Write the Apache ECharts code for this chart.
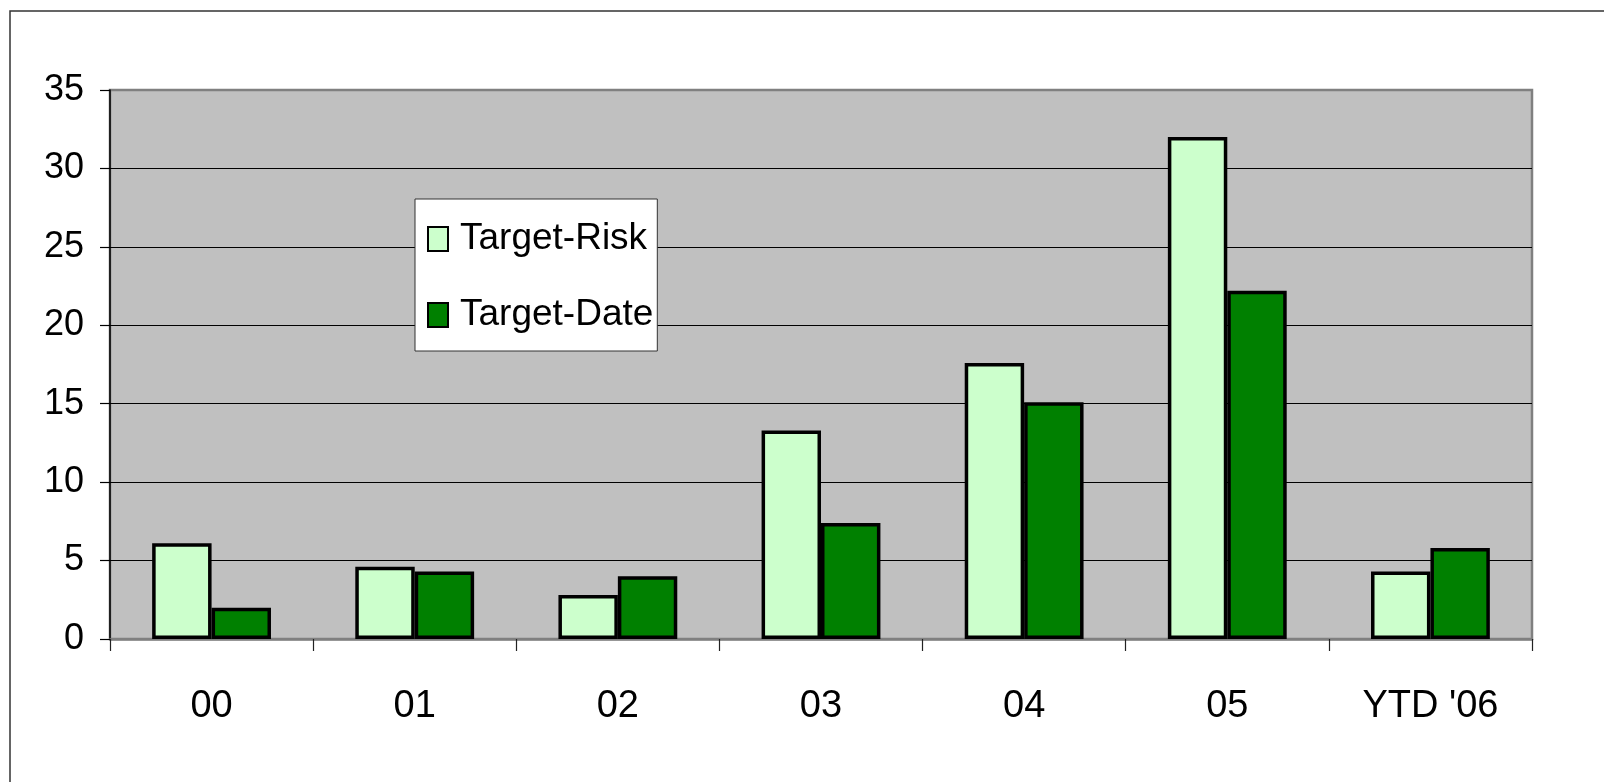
<!DOCTYPE html>
<html>
<head>
<meta charset="utf-8">
<title>Target-Risk vs Target-Date</title>
<script src="https://cdn.jsdelivr.net/npm/echarts@6/dist/echarts.min.js"></script>
<style>
  html, body { margin: 0; padding: 0; background: #ffffff; }
  #chart { width: 1604px; height: 782px; }
</style>
</head>
<body>
<div id="chart"></div>
<script>
// Categories along the x axis
const categories = ['00', '01', '02', '03', '04', '05', "YTD '06"];

// Series values per category
const targetRisk = [6.1, 4.6, 2.8, 13.3, 17.6, 32.0, 4.3];
const targetDate = [2.0, 4.3, 4.0, 7.4, 15.1, 22.2, 5.8];

// Value axis range
const yMin = 0;
const yMax = 35;
const yStep = 5;

const FONT = "'Liberation Sans Narrow', 'Arial Narrow', 'Liberation Sans', Arial, sans-serif";

const chart = echarts.init(document.getElementById('chart'), null, { renderer: 'canvas' });

chart.setOption({
  backgroundColor: '#ffffff',
  animation: false,
  textStyle: { fontFamily: FONT },
  graphic: [
    {
      // outer chart-area frame
      type: 'rect',
      silent: true,
      z: -10,
      shape: { x: 10, y: 11, width: 1640, height: 820 },
      style: { fill: 'none', stroke: '#333333', lineWidth: 1.5 }
    }
  ],
  grid: {
    left: 110,
    top: 90,
    width: 1422,
    height: 549,
    show: true,
    backgroundColor: '#C0C0C0',
    borderColor: '#808080',
    borderWidth: 2.5
  },
  legend: {
    orient: 'vertical',
    left: 415,
    top: 199,
    backgroundColor: '#ffffff',
    borderColor: '#333333',
    borderWidth: 1,
    borderRadius: 0,
    padding: [20, 4, 16, 12],
    itemGap: 36,
    itemWidth: 20,
    itemHeight: 24,
    icon: 'rect',
    textStyle: {
      fontFamily: FONT,
      fontSize: 37,
      lineHeight: 40,
      color: '#000000',
      padding: [0, 0, 0, 7]
    },
    data: ['Target-Risk', 'Target-Date']
  },
  xAxis: {
    type: 'category',
    data: categories,
    boundaryGap: true,
    axisLine: { show: true, lineStyle: { color: '#808080', width: 2.5 } },
    axisTick: { show: true, length: 12, lineStyle: { color: '#222222', width: 1.2 } },
    axisLabel: {
      fontFamily: FONT,
      fontSize: 38,
      color: '#000000',
      margin: 49,
      interval: 0
    },
    splitLine: { show: false }
  },
  yAxis: {
    type: 'value',
    min: yMin,
    max: yMax,
    interval: yStep,
    axisLine: { show: true, lineStyle: { color: '#000000', width: 1.5 } },
    axisTick: { show: true, length: 10, lineStyle: { color: '#000000', width: 1.2 } },
    axisLabel: {
      fontFamily: FONT,
      fontSize: 36,
      color: '#000000',
      margin: 26
    },
    splitLine: {
      show: true,
      showMinLine: false,
      showMaxLine: false,
      lineStyle: { color: '#000000', width: 1.2 }
    }
  },
  series: [
    {
      name: 'Target-Risk',
      type: 'bar',
      data: targetRisk,
      barGap: '0%',
      barCategoryGap: '41.5%',
      itemStyle: { color: '#CCFFCC', borderColor: '#000000', borderWidth: 3.5 }
    },
    {
      name: 'Target-Date',
      type: 'bar',
      data: targetDate,
      barGap: '0%',
      barCategoryGap: '41.5%',
      itemStyle: { color: '#008000', borderColor: '#000000', borderWidth: 3.5 }
    }
  ]
});
</script>
</body>
</html>
